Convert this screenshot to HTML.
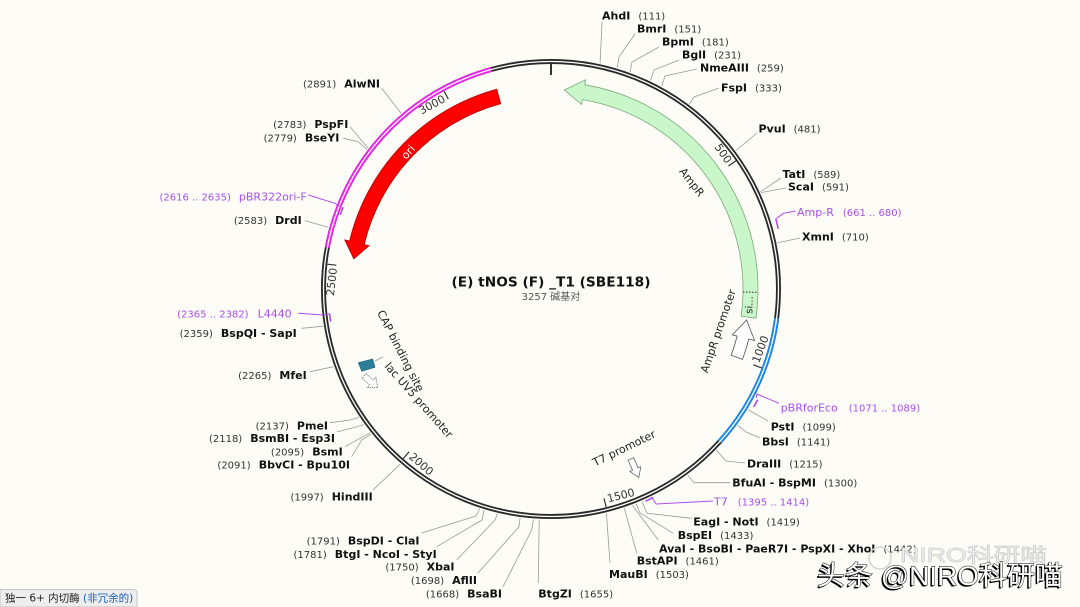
<!DOCTYPE html>
<html><head><meta charset="utf-8"><style>
html,body{margin:0;padding:0;background:#fdfcf6;width:1080px;height:607px;overflow:hidden}
svg{display:block}
text{font-family:"DejaVu Sans","Liberation Sans","Noto Sans CJK SC",sans-serif}
.n{font-size:10px;fill:#333}
.b{font-size:11px;font-weight:bold;fill:#111}
.pn{font-size:11px;fill:#a64ff0}
.pr{font-size:10px;fill:#a64ff0}
.l{stroke:#9a9a9a;stroke-width:0.8;fill:none}
.pl{stroke:#b04cf0;stroke-width:1;fill:none}
.pm{stroke:#b04cf0;stroke-width:1.6;fill:none}
.f{font-size:11px;fill:#222}
</style></head><body>
<svg width="1080" height="607" viewBox="0 0 1080 607" xmlns="http://www.w3.org/2000/svg">
<rect width="1080" height="607" fill="#fdfcf6"/>

<!-- ring -->
<circle cx="551" cy="289" r="227.5" fill="none" stroke="#2a2a2a" stroke-width="5"/>
<path d="M327.3,247.6 A227.5 227.5 0 0 1 491.4,69.5" fill="none" stroke="#ee22ee" stroke-width="5"/>
<path d="M776.7,317.9 A227.5 227.5 0 0 1 719.6,441.7" fill="none" stroke="#1a8ae6" stroke-width="5"/>
<circle cx="551" cy="289" r="227.5" fill="none" stroke="#ffffff" stroke-width="1.3"/>

<!-- ticks -->
<line x1="551" y1="62" x2="551" y2="75" stroke="#333" stroke-width="2"/>
<g stroke="#333" stroke-width="1.2">
<line x1="728.5" y1="166" x2="735.9" y2="160.8"/>
<line x1="753.3" y1="364.8" x2="761.7" y2="367.9"/>
<line x1="604.0" y1="498.4" x2="606.2" y2="507.1"/>
<line x1="409.1" y1="451.8" x2="403.2" y2="458.6"/>
<line x1="336.3" y1="265.2" x2="327.4" y2="264.2"/>
<line x1="448.3" y1="99.0" x2="444.0" y2="91.1"/>
</g>
<g class="n" style="font-size:11px;fill:#333">
<text transform="translate(726.1,164.2) rotate(55.27)" text-anchor="end" class="n" style="font-size:11px">500</text>
<text transform="translate(759.0,363.6) rotate(-69.47)" text-anchor="start" class="n" style="font-size:11px">1000</text>
<text transform="translate(608.2,502.5) rotate(-14.2)" text-anchor="start" class="n" style="font-size:11px">1500</text>
<text transform="translate(408.2,457.7) rotate(41.06)" text-anchor="start" class="n" style="font-size:11px">2000</text>
<text transform="translate(337.0,268.3) rotate(-83.67)" text-anchor="end" class="n" style="font-size:11px">2500</text>
<text transform="translate(446.1,101.3) rotate(-28.4)" text-anchor="end" class="n" style="font-size:11px">3000</text>
</g>

<!-- AmpR -->
<path d="M585.6,79.8 L584.8,84.8 A207 207 0 0 1 755.9,318.2 L741.1,316.1 A192 192 0 0 0 582.4,99.6 L581.5,104.5 L564.4,90.0 Z" fill="#c9f7c9" stroke="#7aa87a" stroke-width="0.8"/>
<line x1="743" y1="292" x2="758" y2="292.3" stroke="#333" stroke-width="1" stroke-dasharray="1.5,1.5"/>
<text transform="translate(749,305) rotate(-88)" text-anchor="middle" y="3.5" style="font-size:10px;fill:#222">si...</text>
<text transform="translate(692,182) rotate(52)" text-anchor="middle" y="4" class="f">AmpR</text>

<!-- ori -->
<path d="M496.7,89.2 A207 207 0 0 0 349.6,241.0 L344.8,239.9 L353.8,258.8 L369.1,245.7 L364.2,244.5 A192 192 0 0 1 500.7,103.7 Z" fill="#ff0000" stroke="#b00000" stroke-width="0.8"/>
<text transform="translate(408,152) rotate(-48)" text-anchor="middle" y="4" style="font-size:11px;fill:#fff">ori</text>

<!-- AmpR promoter -->
<path d="M742.5,359.4 A204 204 0 0 0 748.8,339.0 L754.6,340.5 L746.6,320.0 L732.3,334.9 L737.1,336.1 A192 192 0 0 1 731.2,355.3 Z" fill="#fff" stroke="#555" stroke-width="0.8"/>
<text transform="translate(718,331) rotate(-71)" text-anchor="middle" y="4" class="f">AmpR promoter</text>

<!-- CAP / lac -->
<polygon points="358.3,362.7 372.7,359 375,367.3 361.7,371.3" fill="#2a7f98" stroke="#1d5f73" stroke-width="0.6"/>
<line x1="375" y1="361" x2="383.3" y2="356.7" class="l"/>
<g transform="translate(364,376) rotate(40)">
<path d="M0,-3 L10,-3 L10,-6.5 L18,0 L10,6.5 L10,3 L0,3 Z" fill="#fff" stroke="#666" stroke-width="0.8" stroke-dasharray="1.2,1"/>
</g>
<text transform="translate(400.8,350.8) rotate(63)" text-anchor="middle" y="4" class="f">CAP binding site</text>
<text transform="translate(419,400) rotate(48.4)" text-anchor="middle" y="4" class="f">lac UV5 promoter</text>

<!-- T7 promoter -->
<g transform="translate(631,459) rotate(67)">
<path d="M0,-3 L11,-3 L11,-6 L20,0 L11,6 L11,3 L0,3 Z" fill="#fff" stroke="#666" stroke-width="0.8"/>
</g>
<text transform="translate(624,448) rotate(-25.9)" text-anchor="middle" y="4" class="f">T7 promoter</text>

<!-- center -->
<text x="551" y="286.5" text-anchor="middle" style="font-size:13px;font-weight:bold;fill:#111" textLength="199" lengthAdjust="spacingAndGlyphs">(E) tNOS (F) _T1 (SBE118)</text>
<text x="551" y="300" text-anchor="middle" style="font-size:10px;fill:#555;font-family:'DejaVu Sans','Noto Sans CJK SC',sans-serif">3257 碱基对</text>

<!-- leader lines right -->
<polyline class="l" points="600.1,63.3 602,22"/>
<polyline class="l" points="617.3,67.7 619,57 635,34"/>
<polyline class="l" points="630,72 632,62 659,47"/>
<polyline class="l" points="650.6,80.5 654,70 679,60"/>
<polyline class="l" points="661.7,86.2 665,76 697,69"/>
<polyline class="l" points="689.4,104.1 694,97 719,88"/>
<polyline class="l" points="735.9,150.5 757,133"/>
<polyline class="l" points="760.5,191.7 781,178"/>
<polyline class="l" points="760.9,192.6 786,188"/>
<polyline class="l" points="777.4,242.9 800,238"/>
<polyline class="l" points="748,409.6 768,421"/>
<polyline class="l" points="737.6,425.2 746,432 760,438"/>
<polyline class="l" points="716.4,450.3 726,461 745,463"/>
<polyline class="l" points="687.8,475.1 694,482.7 730,482.7"/>
<polyline class="l" points="641.9,501.4 647,513.3 691.7,518.3"/>
<polyline class="l" points="636.1,503.8 640,513 673.3,533.3"/>
<polyline class="l" points="632.3,505.2 658.3,540"/>
<polyline class="l" points="624.3,508.1 636.7,553"/>
<polyline class="l" points="606.4,513.3 610,563"/>
<polyline class="l" points="539.2,519.7 538.3,583"/>

<!-- leader lines left -->
<polyline class="l" points="401.1,113.2 381.7,88.3"/>
<polyline class="l" points="368,148.1 350,126.7"/>
<polyline class="l" points="366.9,149.5 358.3,141.7 343.3,138.3"/>
<polyline class="l" points="328.4,227.2 305,220.7"/>
<polyline class="l" points="323,326.2 301.7,328.3"/>
<polyline class="l" points="333.5,366.7 310,371.7"/>
<polyline class="l" points="359,417.5 350,420 330,422.7"/>
<polyline class="l" points="363.9,424.5 356.7,426.7 337,432"/>
<polyline class="l" points="370.1,432.7 345,446.7"/>
<polyline class="l" points="371.2,434 361.7,440 351.7,456.7"/>
<polyline class="l" points="400.3,464.1 373,490"/>
<polyline class="l" points="479.7,508.7 476,516 421.7,533"/>
<polyline class="l" points="484,510.1 482,520 436.7,546.7"/>
<polyline class="l" points="497.4,513.7 495,520 456.7,560"/>
<polyline class="l" points="520.1,517.9 519,526.7 478,573"/>
<polyline class="l" points="533.4,519.3 531.7,530 503,586.7"/>

<!-- primers -->
<path class="pm" d="M775.8,218.5 L778.2,228.8"/>
<polyline class="pl" points="776.6,218.3 783.4,213.3 795.5,211"/>
<path class="pm" d="M757.8,399.7 L753.8,406.8"/>
<polyline class="pl" points="756,398 757,394 779,403.3"/>
<path class="pm" d="M653.3,497.5 L645.5,501.2"/>
<polyline class="pl" points="651.7,497 656,504 713,501"/>
<path class="pm" d="M330.5,321.5 L329.5,313.5"/>
<polyline class="pl" points="298.3,313.3 323.3,315 329.3,313.8"/>
<path class="pm" d="M340.3,214.9 L343.1,207.2"/>
<polyline class="pl" points="308.3,195 335,203.3 341,207"/>

<!-- right labels -->
<text x="602" y="19.5"><tspan class="b">AhdI</tspan><tspan class="n" dx="8">(111)</tspan></text>
<text x="637" y="32.3"><tspan class="b">BmrI</tspan><tspan class="n" dx="8">(151)</tspan></text>
<text x="662" y="45.7"><tspan class="b">BpmI</tspan><tspan class="n" dx="8">(181)</tspan></text>
<text x="682" y="58.3"><tspan class="b">BglI</tspan><tspan class="n" dx="8">(231)</tspan></text>
<text x="700" y="71.3"><tspan class="b">NmeAIII</tspan><tspan class="n" dx="8">(259)</tspan></text>
<text x="721" y="91.3"><tspan class="b">FspI</tspan><tspan class="n" dx="8">(333)</tspan></text>
<text x="758.5" y="132.3"><tspan class="b">PvuI</tspan><tspan class="n" dx="8">(481)</tspan></text>
<text x="782.5" y="178"><tspan class="b">TatI</tspan><tspan class="n" dx="8">(589)</tspan></text>
<text x="788" y="190.7"><tspan class="b">ScaI</tspan><tspan class="n" dx="8">(591)</tspan></text>
<text x="797" y="216"><tspan class="pn">Amp-R</tspan><tspan class="pr" dx="9">(661 .. 680)</tspan></text>
<text x="802" y="240.7"><tspan class="b">XmnI</tspan><tspan class="n" dx="8">(710)</tspan></text>
<text x="780.7" y="411.3"><tspan class="pn">pBRforEco</tspan><tspan class="pr" dx="11">(1071 .. 1089)</tspan></text>
<text x="770.7" y="430.7"><tspan class="b">PstI</tspan><tspan class="n" dx="8">(1099)</tspan></text>
<text x="762" y="445.7"><tspan class="b">BbsI</tspan><tspan class="n" dx="8">(1141)</tspan></text>
<text x="747" y="467.3"><tspan class="b">DraIII</tspan><tspan class="n" dx="8">(1215)</tspan></text>
<text x="732.3" y="486.7"><tspan class="b">BfuAI - BspMI</tspan><tspan class="n" dx="8">(1300)</tspan></text>
<text x="714" y="505.7"><tspan class="pn">T7</tspan><tspan class="pr" dx="10">(1395 .. 1414)</tspan></text>
<text x="693.3" y="525.7"><tspan class="b">EagI - NotI</tspan><tspan class="n" dx="8">(1419)</tspan></text>
<text x="677.7" y="539"><tspan class="b">BspEI</tspan><tspan class="n" dx="8">(1433)</tspan></text>
<text x="659" y="552.3"><tspan class="b">AvaI - BsoBI - PaeR7I - PspXI - XhoI</tspan><tspan class="n" dx="8">(1442)</tspan></text>
<text x="636.7" y="564.7"><tspan class="b">BstAPI</tspan><tspan class="n" dx="8">(1461)</tspan></text>
<text x="609" y="578"><tspan class="b">MauBI</tspan><tspan class="n" dx="8">(1503)</tspan></text>
<text x="538.3" y="597.3"><tspan class="b">BtgZI</tspan><tspan class="n" dx="8">(1655)</tspan></text>

<!-- left labels -->
<text x="380" y="87.3" text-anchor="end"><tspan class="n">(2891)</tspan><tspan class="b" dx="8">AlwNI</tspan></text>
<text x="348.3" y="128" text-anchor="end"><tspan class="n">(2783)</tspan><tspan class="b" dx="8">PspFI</tspan></text>
<text x="339.3" y="141.3" text-anchor="end"><tspan class="n">(2779)</tspan><tspan class="b" dx="8">BseYI</tspan></text>
<text x="306.7" y="200.7" text-anchor="end"><tspan class="pr">(2616 .. 2635)</tspan><tspan class="pn" dx="8">pBR322ori-F</tspan></text>
<text x="301.7" y="224" text-anchor="end"><tspan class="n">(2583)</tspan><tspan class="b" dx="8">DrdI</tspan></text>
<text x="291.7" y="317.3" text-anchor="end"><tspan class="pr">(2365 .. 2382)</tspan><tspan class="pn" dx="9">L4440</tspan></text>
<text x="296.7" y="337" text-anchor="end"><tspan class="n">(2359)</tspan><tspan class="b" dx="8">BspQI - SapI</tspan></text>
<text x="306.7" y="379" text-anchor="end"><tspan class="n">(2265)</tspan><tspan class="b" dx="8">MfeI</tspan></text>
<text x="328" y="429.7" text-anchor="end"><tspan class="n">(2137)</tspan><tspan class="b" dx="8">PmeI</tspan></text>
<text x="335" y="442" text-anchor="end"><tspan class="n">(2118)</tspan><tspan class="b" dx="8">BsmBI - Esp3I</tspan></text>
<text x="342.7" y="455.7" text-anchor="end"><tspan class="n">(2095)</tspan><tspan class="b" dx="8">BsmI</tspan></text>
<text x="350" y="468.3" text-anchor="end"><tspan class="n">(2091)</tspan><tspan class="b" dx="8">BbvCI - Bpu10I</tspan></text>
<text x="372.7" y="500.7" text-anchor="end"><tspan class="n">(1997)</tspan><tspan class="b" dx="8">HindIII</tspan></text>
<text x="419.5" y="544.7" text-anchor="end"><tspan class="n">(1791)</tspan><tspan class="b" dx="8">BspDI - ClaI</tspan></text>
<text x="436.7" y="558" text-anchor="end"><tspan class="n">(1781)</tspan><tspan class="b" dx="8">BtgI - NcoI - StyI</tspan></text>
<text x="454.5" y="570.7" text-anchor="end"><tspan class="n">(1750)</tspan><tspan class="b" dx="8">XbaI</tspan></text>
<text x="477" y="584" text-anchor="end"><tspan class="n">(1698)</tspan><tspan class="b" dx="8">AflII</tspan></text>
<text x="502" y="597.3" text-anchor="end"><tspan class="n">(1668)</tspan><tspan class="b" dx="8">BsaBI</tspan></text>

<!-- bottom-left tab -->
<path d="M0,589.5 L133,589.5 Q137,589.5 137,593.5 L137,607 L0,607 Z" fill="#eeeeee" stroke="#c4c4c4" stroke-width="1"/>
<text x="5" y="601.5" style="font-size:10.5px;font-family:'DejaVu Sans','Noto Sans CJK SC',sans-serif;fill:#222">独一 6+ 内切酶 <tspan style="fill:#1a5fb4">(非冗余的)</tspan></text>

<!-- faint watermark -->
<circle cx="880" cy="558" r="11" fill="none" stroke="#d4d4d4" stroke-width="1.5"/>
<text x="900" y="562" textLength="147" lengthAdjust="spacingAndGlyphs" style="font-size:20px;font-family:'Liberation Sans','Noto Sans CJK SC',sans-serif;fill:#f4f4f4;stroke:#cfcfcf;stroke-width:0.8">NIRO科研喵</text>

<!-- main watermark -->
<text x="815.5" y="586.5" textLength="246" lengthAdjust="spacingAndGlyphs" style="font-size:27px;font-family:'Liberation Sans','Noto Sans CJK SC',sans-serif;fill:#000">头条 @NIRO科研喵</text>
<text x="817" y="585" textLength="246" lengthAdjust="spacingAndGlyphs" style="font-size:27px;font-family:'Liberation Sans','Noto Sans CJK SC',sans-serif;fill:#fff;stroke:#000;stroke-width:0.9;paint-order:stroke">头条 @NIRO科研喵</text>
</svg>
</body></html>
